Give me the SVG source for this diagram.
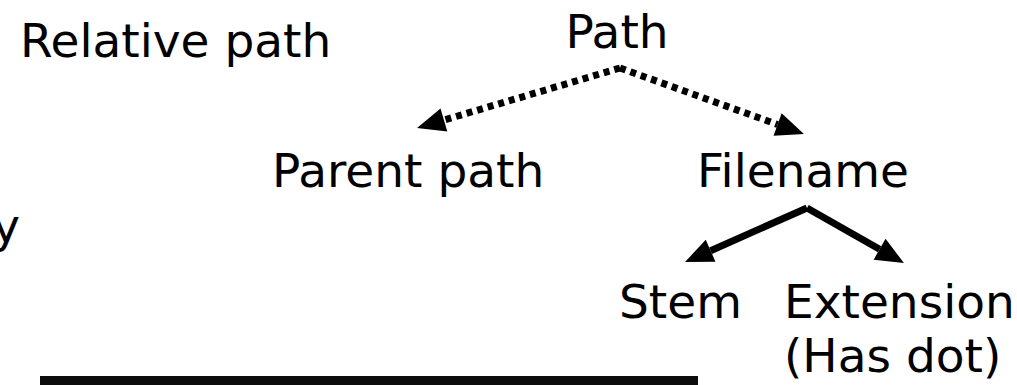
<svg xmlns="http://www.w3.org/2000/svg" width="1017" height="385" viewBox="0 0 1017 385">
  <style>
    .lbl { font-family: "DejaVu Sans", Verdana, sans-serif; font-size: 47px; fill: #000; }
    .dotted { stroke: #000; stroke-width: 7; stroke-dasharray: 6 5; fill: none; }
    .solid { stroke: #000; stroke-width: 7; fill: none; }
  </style>
  <defs>
    <!-- arrowhead starts where the line stops, so the tip stays sharp -->
    <marker id="head" markerUnits="userSpaceOnUse" markerWidth="30" markerHeight="24" refX="0" refY="12" orient="auto" overflow="visible">
      <path d="M0,0 L28,12 L0,24 z" fill="#000"/>
    </marker>
  </defs>

  <rect width="1017" height="385" fill="#fff"/>

  <g id="relative-path"><text class="lbl" x="20" y="57">Relative path</text></g>
  <g id="left-edge-label"><text class="lbl" x="20" y="242" text-anchor="end">y</text></g>
  <g id="path"><text class="lbl" x="617" y="48" text-anchor="middle">Path</text></g>
  <g id="parent-path"><text class="lbl" x="272" y="187">Parent path</text></g>
  <g id="filename"><text class="lbl" x="697" y="187">Filename</text></g>
  <g id="stem"><text class="lbl" x="619" y="318">Stem</text></g>
  <g id="extension">
    <text class="lbl" x="784" y="318">Extension</text>
    <text class="lbl" x="784" y="372">(Has dot)</text>
  </g>
  <g id="code-bar"><rect x="40" y="376" width="658" height="9" fill="#0d0d0d"/></g>

  <g id="connectors">
    <line class="dotted" x1="620" y1="68" x2="443.9" y2="120.1" marker-end="url(#head)"/>
    <line class="dotted" x1="620" y1="68" x2="777.6" y2="124.5" marker-end="url(#head)"/>
    <line class="solid" x1="807" y1="208" x2="710.6" y2="250.7" marker-end="url(#head)"/>
    <line class="solid" x1="807" y1="208" x2="879.6" y2="249.2" marker-end="url(#head)"/>
  </g>
</svg>
